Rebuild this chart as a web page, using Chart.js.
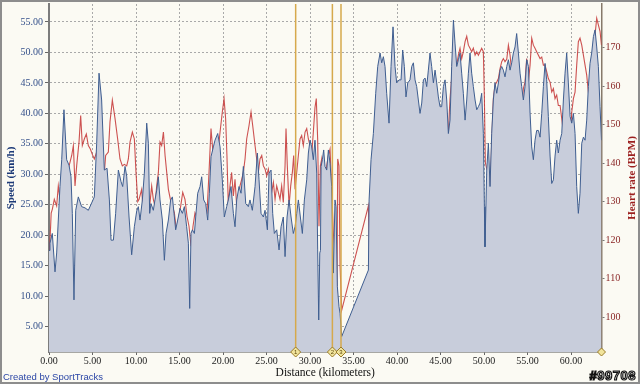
<!DOCTYPE html>
<html>
<head>
<meta charset="utf-8">
<script src="https://cdn.jsdelivr.net/npm/chart.js@4.4.1/dist/chart.umd.min.js"></script>
<style>
  body { margin: 0; background: #fff; }
  #box { position: relative; width: 640px; height: 384px; }
  #credit { position: absolute; left: 3px; top: 371px; font: 9.5px 'Liberation Sans', sans-serif; color: #2b46a6; }
  #refno { position: absolute; right: 4px; top: 368px; font: bold 13px 'Liberation Sans', sans-serif; color: #fff;
           -webkit-text-stroke: 1.2px #111; letter-spacing: 0.5px; }
</style>
</head>
<body>
<div id="box">
  <canvas id="graficoVelocidade" width="640" height="384"></canvas>
  <div id="credit">Created by SportTracks</div>
  <div id="refno">#99708</div>
</div>
<script>
/* dados */
const speedKm = [0.00, 0.11, 0.38, 0.69, 0.88, 1.26, 1.46, 1.72, 2.03, 2.30, 2.53, 2.68, 2.87, 3.07, 3.37, 3.75, 4.14, 4.52, 4.90, 5.21,
  5.48, 5.75, 6.05, 6.36, 6.67, 6.94, 7.13, 7.40, 7.66, 7.97, 8.28, 8.47, 8.74, 8.93, 9.20, 9.50, 9.81, 10.08, 10.27, 10.46,
  10.73, 10.96, 11.23, 11.42, 11.57, 11.72, 11.99, 12.18, 12.38, 12.57, 12.76, 13.03, 13.26, 13.45, 13.72, 13.98, 14.18, 14.37, 14.56, 14.79,
  15.06, 15.33, 15.56, 15.82, 16.02, 16.17, 16.32, 16.48, 16.71, 16.86, 17.09, 17.36, 17.55, 17.78, 18.01, 18.24, 18.43, 18.62, 18.89, 19.08,
  19.39, 19.66, 19.92, 20.15, 20.42, 20.61, 20.92, 21.19, 21.38, 21.57, 21.84, 22.07, 22.34, 22.61, 22.91, 23.10, 23.37, 23.68, 23.95, 24.14,
  24.37, 24.64, 24.83, 25.10, 25.29, 25.52, 25.71, 25.90, 26.17, 26.44, 26.67, 26.93, 27.13, 27.36, 27.59, 27.82, 28.08, 28.28, 28.47, 28.66,
  28.89, 29.12, 29.35, 29.62, 29.81, 30.00, 30.19, 30.38, 30.57, 30.77, 30.88, 31.00, 31.12, 31.20, 31.27, 31.42, 31.57, 31.72, 31.92, 32.11,
  32.30, 32.49, 32.68, 32.87, 32.99, 33.14, 33.33, 33.45, 33.64, 36.71, 36.79, 37.01, 37.28, 37.55, 37.78, 38.05, 38.24, 38.43, 38.62, 38.81,
  39.08, 39.31, 39.54, 39.77, 39.96, 40.23, 40.46, 40.65, 40.84, 41.03, 41.23, 41.49, 41.69, 41.88, 42.07, 42.26, 42.45, 42.64, 42.84, 43.03,
  43.22, 43.41, 43.60, 43.79, 43.98, 44.18, 44.37, 44.56, 44.75, 44.94, 45.13, 45.33, 45.52, 45.71, 45.90, 46.09, 46.28, 46.48, 46.67, 46.86,
  47.05, 47.24, 47.43, 47.62, 47.82, 48.01, 48.20, 48.39, 48.58, 48.77, 48.97, 49.16, 49.35, 49.54, 49.73, 49.92, 50.04, 50.11, 50.31, 50.50,
  50.69, 50.88, 51.07, 51.26, 51.46, 51.65, 51.84, 52.03, 52.22, 52.41, 52.61, 52.80, 52.99, 53.18, 53.37, 53.56, 53.75, 53.95, 54.14, 54.33,
  54.52, 54.71, 54.90, 55.10, 55.29, 55.48, 55.67, 55.86, 56.05, 56.25, 56.44, 56.63, 56.82, 57.01, 57.20, 57.39, 57.59, 57.78, 57.97, 58.16,
  58.35, 58.54, 58.74, 58.93, 59.12, 59.31, 59.50, 59.69, 59.89, 60.08, 60.27, 60.46, 60.65, 60.84, 61.03, 61.23, 61.42, 61.61, 61.80, 61.99,
  62.18, 62.37, 62.57, 62.76, 62.95, 63.14, 63.33, 63.50];
const speedKmh = [17.5, 18.7, 20.3, 14.0, 17.1, 28.0, 32.4, 40.6, 32.4, 31.5, 29.6, 23.6, 9.4, 24.1, 26.3, 24.7, 24.5, 24.1, 25.3, 26.3,
  35.1, 46.6, 42.2, 30.7, 31.0, 25.8, 19.2, 19.2, 23.6, 30.7, 28.8, 28.0, 31.3, 29.7, 23.0, 16.8, 21.4, 24.0, 24.7, 22.5,
  25.8, 30.2, 38.4, 35.1, 23.6, 25.2, 24.1, 25.8, 27.4, 29.6, 25.8, 22.5, 15.9, 20.3, 22.5, 25.8, 26.3, 23.6, 20.9, 22.5,
  24.4, 23.6, 24.7, 21.4, 18.7, 8.0, 20.3, 20.9, 20.3, 23.0, 26.9, 28.0, 29.6, 25.8, 25.2, 22.5, 26.9, 32.9, 34.5, 35.6,
  36.7, 34.5, 29.1, 23.0, 24.7, 25.8, 28.0, 23.6, 21.4, 25.8, 28.0, 26.9, 31.3, 25.2, 24.7, 25.8, 24.1, 28.0, 33.5, 29.1,
  23.6, 23.0, 24.1, 20.9, 30.2, 30.7, 23.6, 20.3, 20.9, 17.6, 21.4, 23.0, 16.5, 23.0, 25.8, 23.0, 20.3, 21.4, 23.6, 25.8,
  23.0, 20.3, 25.8, 29.1, 33.5, 35.6, 34.5, 32.4, 35.6, 30.2, 17.6, 6.1, 17.1, 17.5, 31.3, 32.4, 34.0, 31.3, 30.7, 34.0,
  31.8, 28.0, 13.8, 25.8, 24.7, 11.6, 8.3, 7.2, 3.4, 14.3, 25.8, 32.4, 36.7, 43.3, 47.7, 49.9, 48.3, 49.3, 47.7, 43.3,
  38.4, 47.7, 54.2, 47.7, 45.0, 45.5, 45.5, 50.4, 47.7, 42.7, 45.0, 45.5, 47.7, 48.3, 45.5, 44.4, 42.2, 40.0, 41.7, 45.5,
  45.8, 44.4, 47.1, 49.9, 47.7, 45.0, 47.1, 45.0, 42.7, 41.1, 41.1, 44.4, 45.5, 42.2, 36.7, 38.9, 47.7, 55.3, 51.4, 47.7,
  48.8, 49.9, 46.6, 43.3, 38.9, 42.2, 46.6, 49.9, 46.6, 44.4, 42.2, 40.6, 41.1, 41.7, 43.3, 36.7, 24.7, 18.1, 30.7, 35.1,
  28.0, 36.7, 42.2, 45.0, 43.3, 45.0, 47.1, 47.7, 47.1, 46.0, 47.7, 48.8, 47.1, 48.3, 49.9, 50.9, 53.1, 49.9, 46.6, 44.4,
  42.2, 44.4, 48.8, 47.7, 40.0, 34.5, 32.4, 35.6, 37.2, 37.2, 36.1, 40.0, 44.4, 48.2, 45.5, 39.5, 33.0, 28.5, 29.1, 33.0,
  35.6, 33.5, 35.6, 36.7, 42.2, 46.6, 49.9, 45.0, 39.5, 38.4, 40.0, 36.7, 28.0, 23.6, 26.9, 35.1, 36.1, 35.6, 38.9, 44.4,
  48.2, 49.9, 52.6, 53.7, 50.9, 47.7, 41.1, 35.6];

const hrKm = [0.00, 0.10, 0.25, 0.38, 0.61, 0.88, 1.07, 1.26, 1.46, 1.65, 1.84, 2.03, 2.22, 2.41, 2.61, 2.80, 2.99, 3.18, 3.45, 3.64,
  3.83, 4.06, 4.29, 4.52, 4.75, 4.98, 5.21, 5.48, 5.67, 5.86, 6.05, 6.25, 6.51, 6.82, 7.01, 7.28, 7.59, 7.89, 8.16, 8.43,
  8.66, 8.93, 9.12, 9.31, 9.58, 9.81, 10.00, 10.20, 10.35, 10.65, 10.84, 11.11, 11.34, 11.57, 11.80, 11.99, 12.18, 12.38, 12.57, 12.76,
  12.95, 13.15, 13.34, 13.53, 13.72, 13.95, 14.18, 14.41, 14.67, 14.87, 15.14, 15.37, 15.63, 15.86, 16.09, 16.32, 16.55, 16.78, 17.09, 17.36,
  17.62, 17.93, 18.16, 18.39, 18.62, 18.81, 19.01, 19.20, 19.39, 19.66, 19.92, 20.12, 20.30, 20.45, 20.61, 20.80, 20.99, 21.19, 21.38, 21.57,
  21.76, 21.95, 22.15, 22.34, 22.53, 22.72, 22.99, 23.22, 23.41, 23.68, 23.87, 24.06, 24.25, 24.45, 24.64, 24.83, 25.02, 25.21, 25.40, 25.59,
  25.79, 25.98, 26.17, 26.36, 26.55, 26.74, 26.93, 27.13, 27.24, 27.39, 27.59, 27.78, 27.97, 28.12, 28.28, 28.47, 28.66, 28.85, 29.04, 29.23,
  29.43, 29.62, 29.81, 30.00, 30.19, 30.38, 30.57, 30.72, 30.88, 31.03, 31.19, 31.34, 31.53, 31.72, 31.92, 32.11, 32.30, 32.49, 32.68, 32.80,
  32.95, 33.10, 33.18, 33.33, 33.45, 33.64, 36.71, 36.83, 37.01, 37.17, 37.32, 37.47, 37.67, 37.86, 38.05, 38.24, 38.43, 38.62, 38.81, 39.00,
  39.20, 39.31, 39.46, 39.62, 39.77, 39.96, 40.15, 40.34, 40.54, 40.73, 40.92, 41.11, 41.30, 41.49, 41.69, 41.80, 41.95, 42.11, 42.26, 42.45,
  42.64, 42.84, 43.03, 43.22, 43.41, 43.60, 43.72, 43.87, 44.02, 44.18, 44.33, 44.48, 44.64, 44.79, 44.94, 45.13, 45.33, 45.52, 45.71, 45.90,
  46.09, 46.28, 46.48, 46.67, 46.86, 47.05, 47.24, 47.43, 47.62, 47.82, 48.01, 48.20, 48.39, 48.58, 48.77, 48.97, 49.16, 49.35, 49.54, 49.73,
  49.92, 50.04, 50.15, 50.31, 50.50, 50.69, 50.88, 51.07, 51.26, 51.46, 51.65, 51.84, 52.03, 52.22, 52.41, 52.61, 52.80, 52.99, 53.18, 53.37,
  53.56, 53.75, 53.95, 54.14, 54.33, 54.52, 54.71, 54.90, 55.10, 55.29, 55.48, 55.67, 55.86, 56.05, 56.25, 56.44, 56.63, 56.82, 57.01, 57.20,
  57.39, 57.59, 57.78, 57.97, 58.16, 58.35, 58.54, 58.74, 58.93, 59.12, 59.31, 59.50, 59.69, 59.89, 60.08, 60.27, 60.46, 60.65, 60.84, 61.03,
  61.23, 61.42, 61.61, 61.80, 61.99, 62.18, 62.37, 62.57, 62.76, 62.95, 63.14, 63.33, 63.50];
const hrBpm = [95, 119, 127, 128.0, 130.6, 128.9, 134.1, 130.6, 132.4, 128.9, 125.4, 134.1, 138.5, 140.2, 142.0, 144.6, 134.1, 139.3, 145.5, 152.4,
  144.6, 146.3, 147.6, 144.6, 143.7, 142.3, 141.1, 142.9, 128.9, 110.5, 116.7, 134.1, 142.0, 142.9, 150.7, 156.4, 151.6, 146.3, 141.1, 139.3,
  139.7, 139.3, 141.1, 145.5, 148.1, 146.3, 137.6, 130.0, 130.6, 133.2, 127.1, 120.2, 111.4, 128.9, 134.1, 130.6, 128.9, 134.1, 137.6, 145.5,
  144.6, 148.1, 142.0, 137.6, 133.2, 130.6, 128.9, 127.1, 121.9, 125.4, 128.9, 132.4, 130.6, 126.2, 123.6, 118.4, 123.6, 127.1, 125.4, 122.8,
  124.5, 125.4, 127.1, 137.6, 149.0, 143.7, 130.6, 145.5, 142.0, 148.1, 153.3, 156.8, 151.6, 142.0, 128.9, 134.1, 137.6, 131.5, 135.8, 128.9,
  130.6, 134.1, 135.8, 137.6, 141.1, 146.3, 149.8, 153.3, 149.8, 144.6, 141.1, 137.6, 141.1, 142.0, 139.3, 138.5, 136.7, 138.5, 135.8, 132.4,
  135.0, 130.6, 134.1, 132.4, 130.6, 134.1, 129.8, 139.3, 149.0, 139.3, 128.9, 134.1, 137.6, 142.0, 133.2, 137.6, 142.0, 146.3, 147.2, 144.6,
  148.1, 149.0, 146.3, 144.6, 142.0, 148.1, 154.5, 156.8, 146.0, 123.6, 139.3, 141.1, 134.1, 133.2, 139.3, 142.0, 143.7, 133.2, 121.9, 118.4,
  107.9, 104.5, 141.1, 139.3, 113.2, 101.8, 128.9, 114.9, 113.2, 114.9, 114.1, 113.2, 107.1, 121.9, 137.6, 146.3, 147.2, 137.6, 121.9, 110.5,
  128.9, 130.6, 121.9, 114.9, 121.9, 128.9, 125.4, 114.9, 118.4, 132.4, 135.8, 134.1, 148.1, 145.5, 149.0, 148.0, 142.0, 132.4, 126.2, 139.3,
  149.8, 154.2, 155.0, 151.6, 144.6, 134.1, 137.6, 130.6, 127.1, 121.9, 132.4, 141.1, 148.1, 154.2, 154.2, 150.7, 144.2, 144.6, 144.6, 148.1,
  156.8, 162.0, 171.6, 167.2, 165.5, 168.1, 169.9, 167.2, 169.0, 171.6, 173.0, 170.7, 169.9, 169.0, 169.9, 168.1, 169.0, 168.1, 169.0, 169.9,
  169.0, 156.8, 140.2, 138.5, 139.3, 130.6, 145.5, 156.8, 160.3, 161.1, 162.0, 164.6, 166.4, 167.2, 166.4, 167.0, 170.7, 168.1, 163.8, 160.3,
  157.7, 159.4, 156.0, 149.8, 154.2, 159.4, 161.1, 167.2, 161.1, 165.5, 172.5, 170.7, 169.9, 169.0, 168.1, 167.2, 167.6, 165.5, 165.5, 163.8,
  162.0, 161.1, 158.5, 159.4, 156.8, 157.7, 155.0, 155.0, 151.6, 148.1, 144.6, 137.6, 132.4, 146.3, 153.3, 156.8, 158.5, 165.5, 171.6, 172.5,
  170.7, 168.1, 165.5, 162.9, 158.5, 159.4, 162.9, 169.0, 173.4, 177.7, 176.0, 174.3, 170.7];

const distTicks = [0, 5, 10, 15, 20, 25, 30, 35, 40, 45, 50, 55, 60];
const speedTicks = [5, 10, 15, 20, 25, 30, 35, 40, 45, 50, 55];
const hrTicks = [100, 110, 120, 130, 140, 150, 160, 170];
const markerKm = [28.35, 32.57, 33.56];
const markerNames = ['1', '2', '3'];

const fonteSerif = "'Liberation Serif', 'DejaVu Serif', serif";

/* marcadores das voltas, fundo e moldura */
const marcas = {
    id: 'marcas',
    beforeDraw(chart) {
        const ctx = chart.ctx;
        ctx.save();
        ctx.fillStyle = '#fbfaf3';
        ctx.fillRect(0, 0, chart.width, chart.height);
        ctx.restore();
    },
    afterDatasetsDraw(chart) {
        const {ctx, chartArea, scales} = chart;
        ctx.save();
        ctx.strokeStyle = '#d6a94c';
        ctx.lineWidth = 1.5;
        markerKm.forEach(km => {
            const x = scales.x.getPixelForValue(km);
            ctx.beginPath();
            ctx.moveTo(x, chartArea.top);
            ctx.lineTo(x, chartArea.bottom);
            ctx.stroke();
        });
        ctx.restore();
    },
    afterDraw(chart) {
        const {ctx, chartArea, scales} = chart;
        const y = chartArea.bottom;
        ctx.save();
        const diamante = (x, r) => {
            ctx.beginPath();
            ctx.moveTo(x, y - r);
            ctx.lineTo(x + r, y);
            ctx.lineTo(x, y + r);
            ctx.lineTo(x - r, y);
            ctx.closePath();
            ctx.fillStyle = '#f1e49c';
            ctx.fill();
            ctx.strokeStyle = '#9a7b26';
            ctx.lineWidth = 1;
            ctx.stroke();
        };
        markerKm.forEach((km, i) => {
            const x = scales.x.getPixelForValue(km);
            diamante(x, 5);
            ctx.fillStyle = '#5f4a0c';
            ctx.font = "6px 'Liberation Sans', sans-serif";
            ctx.textAlign = 'center';
            ctx.textBaseline = 'middle';
            ctx.fillText(markerNames[i], x, y + 0.5);
        });
        diamante(chartArea.right, 4);

        // título do eixo direito, lido de baixo para cima
        ctx.translate(632, (chartArea.top + chartArea.bottom) / 2);
        ctx.rotate(-Math.PI / 2);
        ctx.fillStyle = '#9b1f1f';
        ctx.font = 'bold 11px ' + fonteSerif;
        ctx.textAlign = 'center';
        ctx.textBaseline = 'middle';
        ctx.fillText('Heart rate (BPM)', 0, 0);
        ctx.restore();

        ctx.save();
        ctx.strokeStyle = '#8d8d8d';
        ctx.lineWidth = 2;
        ctx.strokeRect(1, 1, chart.width - 2, chart.height - 2);
        ctx.restore();
    }
};

const graficoVelocidade = document.getElementById('graficoVelocidade');

new Chart(graficoVelocidade, {
    type: 'line',
    data: {
        datasets: [{
            label: 'Speed (km/h)',
            data: speedKm.map((d, i) => ({x: d, y: speedKmh[i]})),
            yAxisID: 'y',
            borderColor: '#3f5e90',
            borderWidth: 1,
            backgroundColor: '#c8cddb',
            fill: 'start',
            pointRadius: 0,
            tension: 0
        }, {
            label: 'Heart rate (BPM)',
            data: hrKm.map((d, i) => ({x: d, y: hrBpm[i]})),
            yAxisID: 'y1',
            borderColor: 'rgba(196, 52, 52, 0.85)',
            borderWidth: 1.1,
            fill: false,
            pointRadius: 0,
            tension: 0
        }]
    },
    options: {
        responsive: false,
        animation: false,
        layout: {
            padding: {top: 4}
        },
        plugins: {
            legend: {display: false},
            tooltip: {enabled: false}
        },
        scales: {
            x: {
                type: 'linear',
                min: 0,
                max: 63.5,
                afterBuildTicks: s => { s.ticks = distTicks.map(v => ({value: v})); },
                afterFit: s => { s.height = 32; s.paddingLeft = 0; s.paddingRight = 0; },
                grid: {color: '#a9a9a9', tickLength: 3, tickColor: '#666', tickBorderDash: []},
                border: {color: '#555', width: 1.5, dash: [2, 2]},
                ticks: {
                    color: '#222',
                    padding: 0,
                    maxRotation: 0,
                    font: {family: fonteSerif, size: 10},
                    callback: v => v.toFixed(2)
                },
                title: {
                    display: true,
                    text: 'Distance (kilometers)',
                    color: '#111',
                    font: {family: fonteSerif, size: 11.5},
                    padding: {top: 0, bottom: 4}
                }
            },
            y: {
                position: 'left',
                min: 0.85,
                max: 57.95,
                afterBuildTicks: s => { s.ticks = speedTicks.map(v => ({value: v})); },
                afterFit: s => { s.width = 49; s.paddingTop = 0; s.paddingBottom = 0; },
                grid: {color: '#a9a9a9', tickLength: 4, tickColor: '#666', tickBorderDash: []},
                border: {color: '#7c7c7c', width: 2, dash: [2, 2]},
                ticks: {
                    color: '#34508a',
                    padding: 2,
                    font: {family: fonteSerif, size: 10},
                    callback: v => v.toFixed(2)
                },
                title: {
                    display: true,
                    text: 'Speed (km/h)',
                    color: '#1d3a78',
                    font: {family: fonteSerif, size: 11, weight: 'bold'},
                    padding: {top: 5, bottom: 0}
                }
            },
            y1: {
                position: 'right',
                min: 90.9,
                max: 181.4,
                afterBuildTicks: s => { s.ticks = hrTicks.map(v => ({value: v})); },
                afterFit: s => { s.width = 38.5; s.paddingTop = 0; s.paddingBottom = 0; },
                grid: {drawOnChartArea: false, tickLength: 3, tickColor: '#777'},
                border: {color: '#86796a', width: 1.5},
                ticks: {
                    color: '#8a2626',
                    padding: 1,
                    font: {family: fonteSerif, size: 10}
                }
            }
        }
    },
    plugins: [marcas]
});
</script>
</body>
</html>
